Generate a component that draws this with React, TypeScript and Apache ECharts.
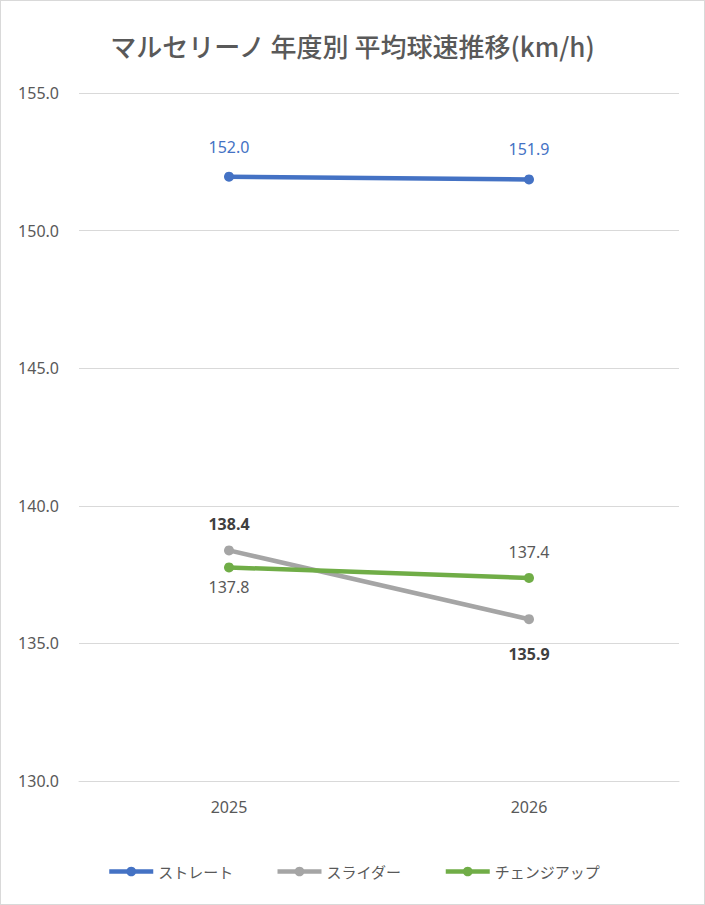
import React, { useEffect, useRef } from "react";
import * as echarts from "echarts";

const categories = ["2025", "2026"];
const straight = [151.96, 151.86];
const slider = [138.38, 135.88];
const changeup = [137.76, 137.38];
const seriesNames = ["ストレート", "スライダー", "チェンジアップ"];
const colors = ["#4472C4", "#A5A5A5", "#70AD47"];

const NUM_FONT = "'Noto Sans', 'Noto Sans CJK JP', sans-serif";
const JP_FONT = "'Noto Sans CJK JP', 'Noto Sans', sans-serif";

export default function App() {
  const ref = useRef<HTMLDivElement>(null);
  useEffect(() => {
    document.body.style.margin = "0";
    const chart = echarts.init(ref.current!, null, { renderer: "svg" });
    const fmt = (p: any) => Number(p.value).toFixed(1);
    const lab = (position: string, distance: number, color: string, bold: boolean) => ({
      show: true,
      position,
      distance,
      formatter: fmt,
      color,
      fontSize: 16,
      fontFamily: NUM_FONT,
      fontWeight: bold ? "bold" : "normal",
    });
    const mk = (name: string, color: string, data: number[], labels: any[]) => ({
      name,
      type: "line",
      data: data.map((v, i) => ({ value: v, label: labels[i] })),
      symbol: "circle",
      symbolSize: 10,
      lineStyle: { width: 4.5, color },
      itemStyle: { color },
      emphasis: { disabled: true },
    });
    chart.setOption({
      animation: false,
      backgroundColor: "#ffffff",
      title: {
        text: "マルセリーノ 年度別 平均球速推移(km/h)",
        left: "center",
        top: 26,
        textStyle: {
          fontFamily: JP_FONT,
          fontSize: 26,
          fontWeight: 500,
          color: "#595959",
        },
      },
      legend: {
        data: seriesNames,
        left: 101,
        top: 858,
        itemWidth: 44,
        itemHeight: 12,
        itemGap: 42,
        lineStyle: { width: 4.5 },
        textStyle: { fontFamily: JP_FONT, fontSize: 15, color: "#595959" },
      },
      grid: { left: 78, right: 25, top: 92, bottom: 123, containLabel: false },
      xAxis: {
        type: "category",
        data: categories,
        boundaryGap: true,
        axisLine: { show: true, lineStyle: { color: "#d9d9d9", width: 1 } },
        axisTick: { show: false },
        axisLabel: { fontFamily: NUM_FONT, fontSize: 16, color: "#595959", margin: 18 },
      },
      yAxis: {
        type: "value",
        min: 130,
        max: 155,
        interval: 5,
        axisLine: { show: false },
        axisTick: { show: false },
        axisLabel: {
          fontFamily: NUM_FONT,
          fontSize: 16,
          color: "#595959",
          margin: 20,
          formatter: (v: number) => v.toFixed(1),
        },
        splitLine: { lineStyle: { color: "#d9d9d9", width: 1 } },
      },
      series: [
        mk(seriesNames[0], colors[0], straight, [
          lab("top", 17, "#4472C4", false),
          lab("top", 17, "#4472C4", false),
        ]),
        mk(seriesNames[1], colors[1], slider, [
          lab("top", 13, "#404040", true),
          lab("bottom", 22, "#404040", true),
        ]),
        mk(seriesNames[2], colors[2], changeup, [
          lab("bottom", 7, "#595959", false),
          lab("top", 13, "#595959", false),
        ]),
      ],
    });
    return () => chart.dispose();
  }, []);
  return (
    <div
      ref={ref}
      style={{
        position: "absolute",
        left: 0,
        top: 0,
        width: 705,
        height: 905,
        border: "1px solid #d9d9d9",
        boxSizing: "border-box",
      }}
    />
  );
}
